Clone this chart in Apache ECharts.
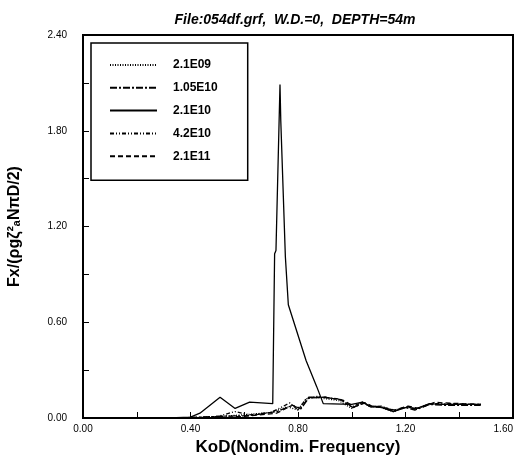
<!DOCTYPE html>
<html>
<head>
<meta charset="utf-8">
<script src="https://cdn.jsdelivr.net/npm/echarts@6/dist/echarts.min.js"></script>
<style>
  html, body { margin: 0; padding: 0; background: #fff; }
  #chart { width: 519px; height: 466px; }
</style>
</head>
<body>
<div id="chart"></div>
<script>
// legend names
const seriesNames = ['2.1E09', '1.05E10', '2.1E10', '4.2E10', '2.1E11']

// [KoD, Fx] pairs
const s2_1e09 = [[0.30, 0], [0.45, 0.005], [0.60, 0.02], [0.70, 0.035], [0.76, 0.07], [0.80, 0.05], [0.83, 0.12], [0.86, 0.13], [0.95, 0.11], [1.00, 0.06], [1.04, 0.10], [1.07, 0.07], [1.10, 0.07], [1.155, 0.04], [1.19, 0.06], [1.21, 0.07], [1.235, 0.055], [1.29, 0.09], [1.33, 0.085], [1.48, 0.085]]
const s1_05e10 = [[0.35, 0], [0.50, 0.01], [0.62, 0.015], [0.72, 0.04], [0.78, 0.08], [0.81, 0.055], [0.84, 0.125], [0.90, 0.13], [0.96, 0.115], [1.005, 0.065], [1.045, 0.095], [1.07, 0.075], [1.11, 0.07], [1.15, 0.045], [1.20, 0.065], [1.235, 0.05], [1.29, 0.085], [1.34, 0.08], [1.48, 0.08]]
const s2_1e10 = [[0.20, 0], [0.32, 0], [0.40, 0.005], [0.435, 0.03], [0.51, 0.13], [0.566, 0.06], [0.62, 0.10], [0.706, 0.09], [0.713, 1.03], [0.718, 1.05], [0.733, 2.09], [0.736, 1.86], [0.753, 1.01], [0.764, 0.71], [0.83, 0.36], [0.87, 0.195], [0.894, 0.09], [1.00, 0.085], [1.04, 0.10], [1.07, 0.07], [1.105, 0.07], [1.155, 0.04], [1.19, 0.06], [1.21, 0.07], [1.235, 0.055], [1.29, 0.09], [1.33, 0.085], [1.48, 0.085]]
const s4_2e10 = [[0.40, 0], [0.50, 0.01], [0.566, 0.04], [0.62, 0.02], [0.70, 0.035], [0.77, 0.095], [0.80, 0.05], [0.83, 0.12], [0.87, 0.135], [0.95, 0.12], [1.00, 0.07], [1.04, 0.10], [1.07, 0.07], [1.11, 0.075], [1.16, 0.045], [1.20, 0.07], [1.24, 0.06], [1.30, 0.09], [1.35, 0.09], [1.48, 0.085]]
const s2_1e11 = [[0.45, 0], [0.60, 0.01], [0.72, 0.03], [0.78, 0.08], [0.81, 0.06], [0.84, 0.13], [0.90, 0.13], [0.97, 0.11], [1.01, 0.07], [1.05, 0.095], [1.08, 0.07], [1.12, 0.065], [1.16, 0.05], [1.21, 0.075], [1.25, 0.06], [1.31, 0.10], [1.34, 0.095], [1.48, 0.085]]

const xTicks = [0, 0.4, 0.8, 1.2, 1.6]
const yTicks = [0, 0.6, 1.2, 1.8, 2.4]

const seriesData = [s2_1e09, s1_05e10, s2_1e10, s4_2e10, s2_1e11]
const dashTypes = [[1, 1.5], [7, 2, 2, 2], 'solid', [4, 2, 1, 2, 1, 2], [5, 3]]

const chart = echarts.init(document.getElementById('chart'))

chart.setOption({
  animation: false,
  backgroundColor: '#fff',
  title: {
    text: 'File:054df.grf,  W.D.=0,  DEPTH=54m',
    left: 290,
    top: 8,
    textAlign: 'center',
    textStyle: { fontFamily: 'Liberation Sans', fontSize: 14, fontWeight: 'bold', fontStyle: 'italic', color: '#000' }
  },
  grid: {
    left: 83, right: 6, top: 35, bottom: 48,
    outerBoundsMode: 'none',
    containLabel: false,
    show: true, borderColor: '#000', borderWidth: 2
  },
  legend: {
    orient: 'vertical',
    left: 91,
    top: 43,
    data: seriesNames,
    itemWidth: 47,
    itemHeight: 14,
    itemGap: 10.8,
    padding: [16, 30, 18, 18],
    borderColor: '#000',
    borderWidth: 1.5,
    backgroundColor: '#fff',
    itemStyle: { opacity: 0 },
    textStyle: { fontFamily: 'Liberation Sans', fontSize: 12, fontWeight: 'bold', color: '#000', padding: [0, 0, 0, 11] }
  },
  xAxis: {
    type: 'value',
    min: 0, max: 1.6, interval: 0.4,
    name: 'KoD(Nondim. Frequency)',
    nameLocation: 'middle',
    nameGap: 21,
    nameTextStyle: { fontFamily: 'Liberation Sans', fontSize: 17, fontWeight: 'bold', color: '#000' },
    axisLine: { lineStyle: { color: '#000', width: 2 } },
    axisTick: { inside: true, length: 6, lineStyle: { color: '#000' } },
    minorTick: { show: true, splitNumber: 2, length: 6, lineStyle: { color: '#000' } },
    splitLine: { show: false },
    axisLabel: {
      margin: 6,
      alignMaxLabel: 'right',
      fontFamily: 'Liberation Sans Narrow, Liberation Sans',
      fontSize: 10, color: '#000',
      formatter: v => xTicks.indexOf(v) >= 0 ? v.toFixed(2) : ''
    }
  },
  yAxis: {
    type: 'value',
    min: 0, max: 2.4, interval: 0.6,
    name: 'Fx/(ρgζ²ₐNπD/2)',
    nameLocation: 'middle',
    nameGap: 60,
    nameTextStyle: { fontFamily: 'Liberation Sans', fontSize: 16, fontWeight: 'bold', color: '#000' },
    axisLine: { lineStyle: { color: '#000', width: 2 } },
    axisTick: { inside: true, length: 6, lineStyle: { color: '#000' } },
    minorTick: { show: true, splitNumber: 2, length: 6, lineStyle: { color: '#000' } },
    splitLine: { show: false },
    axisLabel: {
      margin: 16,
      fontFamily: 'Liberation Sans Narrow, Liberation Sans',
      fontSize: 10, color: '#000',
      formatter: v => yTicks.indexOf(v) >= 0 ? v.toFixed(2) : ''
    }
  },
  series: seriesNames.map((name, i) => ({
    name,
    type: 'line',
    data: seriesData[i],
    showSymbol: false,
    symbol: 'none',
    lineStyle: { color: '#000', width: 1.3, type: dashTypes[i] },
    itemStyle: { color: '#000' }
  }))
})
</script>
</body>
</html>
